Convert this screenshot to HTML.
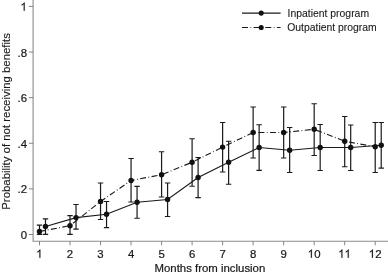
<!DOCTYPE html>
<html><head><meta charset="utf-8"><title>chart</title>
<style>
html,body{margin:0;padding:0;background:#fff;}
#w{width:388px;height:276px;will-change:transform;}
svg{display:block;}
.h{fill:none;stroke:none;}
text{font-family:"Liberation Sans",sans-serif;font-size:11.4px;fill:#1a1a1a;stroke:#1a1a1a;stroke-width:0.22px;}
</style></head><body>
<div id="w">
<svg width="388" height="276" viewBox="0 0 388 276">
<rect width="388" height="276" fill="#fff"/>
<g stroke="#8a8a8a" stroke-width="1.1" fill="none">
<path d="M33.1 0V241.3H388"/>
<path d="M28.90 234.50H33.10M28.90 188.88H33.10M28.90 143.26H33.10M28.90 97.64H33.10M28.90 52.02H33.10M28.90 6.40H33.10" stroke="#777" stroke-width="0.9"/>
<path d="M39.50 241.30V245.30M70.02 241.30V245.30M100.54 241.30V245.30M131.06 241.30V245.30M161.58 241.30V245.30M192.10 241.30V245.30M222.62 241.30V245.30M253.14 241.30V245.30M283.66 241.30V245.30M314.18 241.30V245.30M344.70 241.30V245.30M375.22 241.30V245.30" stroke="#777" stroke-width="0.9"/>
</g>
<g stroke="#1a1a1a" stroke-width="1.2" fill="none">
<path d="M39.50 225.20V234.40M36.80 225.20H42.20M36.80 234.40H42.20"/><path d="M45.50 218.90V234.40M42.80 218.90H48.20M42.80 234.40H48.20"/><path d="M70.02 215.70V234.40M67.32 215.70H72.72M67.32 234.40H72.72"/><path d="M76.02 204.50V229.20M73.32 204.50H78.72M73.32 229.20H78.72"/><path d="M100.54 183.00V219.50M97.84 183.00H103.24M97.84 219.50H103.24"/><path d="M106.54 201.50V227.60M103.84 201.50H109.24M103.84 227.60H109.24"/><path d="M131.06 158.50V202.00M128.36 158.50H133.76M128.36 202.00H133.76"/><path d="M137.06 186.40V218.25M134.36 186.40H139.76M134.36 218.25H139.76"/><path d="M161.58 151.75V197.00M158.88 151.75H164.28M158.88 197.00H164.28"/><path d="M167.58 183.00V216.50M164.88 183.00H170.28M164.88 216.50H170.28"/><path d="M192.10 138.75V186.25M189.40 138.75H194.80M189.40 186.25H194.80"/><path d="M198.10 157.50V197.60M195.40 157.50H200.80M195.40 197.60H200.80"/><path d="M222.62 122.50V172.00M219.92 122.50H225.32M219.92 172.00H225.32"/><path d="M228.62 141.25V184.25M225.92 141.25H231.32M225.92 184.25H231.32"/><path d="M253.14 107.00V158.00M250.44 107.00H255.84M250.44 158.00H255.84"/><path d="M259.14 124.75V170.40M256.44 124.75H261.84M256.44 170.40H261.84"/><path d="M283.66 107.00V158.00M280.96 107.00H286.36M280.96 158.00H286.36"/><path d="M289.66 127.50V172.50M286.96 127.50H292.36M286.96 172.50H292.36"/><path d="M314.18 103.75V155.50M311.48 103.75H316.88M311.48 155.50H316.88"/><path d="M320.18 124.50V170.50M317.48 124.50H322.88M317.48 170.50H322.88"/><path d="M344.70 116.50V166.75M342.00 116.50H347.40M342.00 166.75H347.40"/><path d="M350.70 125.00V170.50M348.00 125.00H353.40M348.00 170.50H353.40"/><path d="M375.22 122.50V172.50M372.52 122.50H377.92M372.52 172.50H377.92"/><path d="M381.22 122.50V168.20M378.52 122.50H383.92M378.52 168.20H383.92"/>
</g>
<polyline points="45.50,226.50 76.02,217.60 106.54,214.30 137.06,202.30 167.58,199.50 198.10,177.50 228.62,162.25 259.14,147.50 289.66,150.25 320.18,147.50 350.70,147.50 381.22,145.20" fill="none" stroke="#1a1a1a" stroke-width="1.15"/>
<polyline points="39.50,231.50 70.02,225.70 100.54,201.50 131.06,180.50 161.58,174.75 192.10,162.25 222.62,147.10 253.14,132.50 283.66,132.50 314.18,129.30 344.70,141.25 375.22,146.75" fill="none" stroke="#1a1a1a" stroke-width="1.15" stroke-dasharray="6.0 2.4 0.83 2.4"/>
<g fill="#111"><circle cx="39.50" cy="231.50" r="2.7"/><circle cx="70.02" cy="225.70" r="2.7"/><circle cx="100.54" cy="201.50" r="2.7"/><circle cx="131.06" cy="180.50" r="2.7"/><circle cx="161.58" cy="174.75" r="2.7"/><circle cx="192.10" cy="162.25" r="2.7"/><circle cx="222.62" cy="147.10" r="2.7"/><circle cx="253.14" cy="132.50" r="2.7"/><circle cx="283.66" cy="132.50" r="2.7"/><circle cx="314.18" cy="129.30" r="2.7"/><circle cx="344.70" cy="141.25" r="2.7"/><circle cx="375.22" cy="146.75" r="2.7"/><circle cx="45.50" cy="226.50" r="2.7"/><circle cx="76.02" cy="217.60" r="2.7"/><circle cx="106.54" cy="214.30" r="2.7"/><circle cx="137.06" cy="202.30" r="2.7"/><circle cx="167.58" cy="199.50" r="2.7"/><circle cx="198.10" cy="177.50" r="2.7"/><circle cx="228.62" cy="162.25" r="2.7"/><circle cx="259.14" cy="147.50" r="2.7"/><circle cx="289.66" cy="150.25" r="2.7"/><circle cx="320.18" cy="147.50" r="2.7"/><circle cx="350.70" cy="147.50" r="2.7"/><circle cx="381.22" cy="145.20" r="2.7"/></g>
<g><text x="20.66" y="239.00">0</text><text x="17.49" y="193.00">.2</text><text x="17.49" y="148.00">.4</text><text x="17.49" y="102.00">.6</text><text x="17.49" y="57.00">.8</text><text x="20.66" y="11.00"><tspan class="h">1</tspan></text><path transform="translate(20.46,10.70) scale(0.005566,-0.005566)" d="M763 0H583V1147Q518 1085 412.5 1023T223 930V1104Q372 1174 483.5 1273.5T641 1466H763V0Z" fill="#1a1a1a" stroke="#1a1a1a" stroke-width="32.3"/></g>
<g><text x="36.33" y="258.00"><tspan class="h">1</tspan></text><path transform="translate(36.13,257.70) scale(0.005566,-0.005566)" d="M763 0H583V1147Q518 1085 412.5 1023T223 930V1104Q372 1174 483.5 1273.5T641 1466H763V0Z" fill="#1a1a1a" stroke="#1a1a1a" stroke-width="32.3"/><text x="66.85" y="258.00">2</text><text x="97.37" y="258.00">3</text><text x="127.89" y="258.00">4</text><text x="158.41" y="258.00">5</text><text x="188.93" y="258.00">6</text><text x="219.45" y="258.00">7</text><text x="249.97" y="258.00">8</text><text x="280.49" y="258.00">9</text><text x="307.84" y="258.00"><tspan class="h">1</tspan>0</text><path transform="translate(307.64,257.70) scale(0.005566,-0.005566)" d="M763 0H583V1147Q518 1085 412.5 1023T223 930V1104Q372 1174 483.5 1273.5T641 1466H763V0Z" fill="#1a1a1a" stroke="#1a1a1a" stroke-width="32.3"/><text x="338.36" y="258.00"><tspan class="h">1</tspan><tspan class="h">1</tspan></text><path transform="translate(338.16,257.70) scale(0.005566,-0.005566)" d="M763 0H583V1147Q518 1085 412.5 1023T223 930V1104Q372 1174 483.5 1273.5T641 1466H763V0Z" fill="#1a1a1a" stroke="#1a1a1a" stroke-width="32.3"/><path transform="translate(344.50,257.70) scale(0.005566,-0.005566)" d="M763 0H583V1147Q518 1085 412.5 1023T223 930V1104Q372 1174 483.5 1273.5T641 1466H763V0Z" fill="#1a1a1a" stroke="#1a1a1a" stroke-width="32.3"/><text x="368.88" y="258.00"><tspan class="h">1</tspan>2</text><path transform="translate(368.68,257.70) scale(0.005566,-0.005566)" d="M763 0H583V1147Q518 1085 412.5 1023T223 930V1104Q372 1174 483.5 1273.5T641 1466H763V0Z" fill="#1a1a1a" stroke="#1a1a1a" stroke-width="32.3"/></g>
<text x="209.9" y="271.7" text-anchor="middle">Months from inclusion</text>
<text transform="translate(9.6,121.4) rotate(-90)" text-anchor="middle" style="stroke-width:0.12px">Probability of not receiving benefits</text>
<g stroke="#1a1a1a" stroke-width="1.15" fill="none">
<path d="M242 13.1H280.6"/>
<path d="M242 27.5H280.6" stroke-dasharray="6.0 2.4 0.83 2.4"/>
</g>
<circle cx="261.2" cy="13.1" r="2.55" fill="#111"/>
<circle cx="261.2" cy="27.5" r="2.55" fill="#111"/>
<text x="287.6" y="17.2" style="font-size:10.4px;stroke-width:0.1px">Inpatient program</text>
<text x="287.2" y="31.4" style="font-size:10.4px;stroke-width:0.1px">Outpatient program</text>
</svg>
</div>
</body></html>
